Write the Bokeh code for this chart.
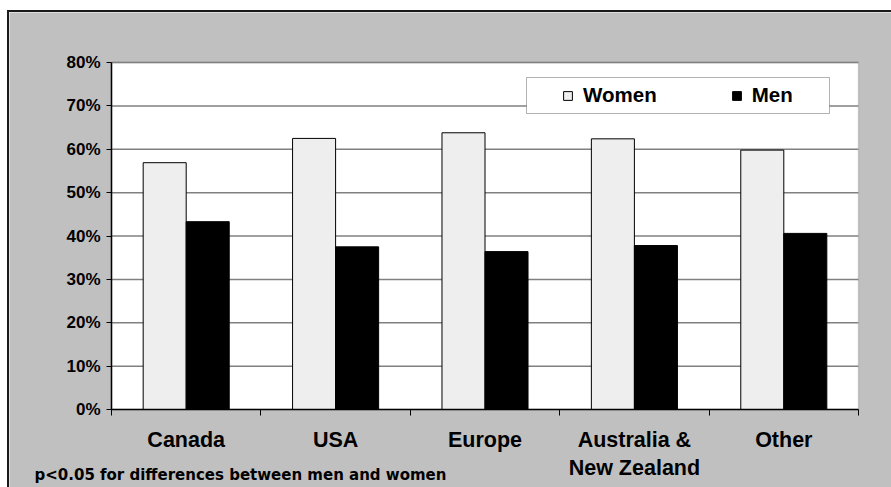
from bokeh.plotting import figure
from bokeh.models import (FixedTicker, Range1d, Legend, LegendItem, Label,
                          ColumnDataSource, BoxAnnotation)
from bokeh.transform import dodge
from bokeh.embed import file_html
from bokeh.resources import INLINE

# ---- data ----
categories = ["Canada", "USA", "Europe", "Australia &\nNew Zealand", "Other"]
women = [56.9, 62.5, 63.8, 62.4, 59.8]
men = [43.3, 37.5, 36.4, 37.8, 40.6]
y_ticks = [0, 10, 20, 30, 40, 50, 60, 70, 80]
y_tick_labels = ["0%", "10%", "20%", "30%", "40%", "50%", "60%", "70%", "80%"]
series_names = ["Women", "Men"]
note = "p<0.05 for differences between men and women"

centers = [i + 0.5 for i in range(len(categories))]
bounds = [i for i in range(len(categories) + 1)]
src = ColumnDataSource(dict(x=centers, women=women, men=men))
grid_src = ColumnDataSource(dict(y=y_ticks[1:]))

FONT = "Liberation Sans"
BAR_W = 0.288

# ---- layout (pixels) ----
CW, CH = 882, 475                       # canvas (whole chart area)
PL, PT, PW, PH = 102, 50, 747, 347      # plot area inside canvas
n = len(categories)
ymax = y_ticks[-1]
xs = n / PW
ys = ymax / PH
x_range = Range1d(-PL * xs, n + (CW - PL - PW) * xs)
y_range = Range1d(-(CH - PT - PH) * ys, ymax + PT * ys)

p = figure(frame_width=CW, frame_height=CH, min_border=0,
           x_range=x_range, y_range=y_range,
           output_backend="svg", toolbar_location=None)
p.styles = {"margin-left": "7px", "margin-top": "10px",
            "border-left": "2px solid #1a1a1a", "border-top": "2px solid #1a1a1a"}
p.border_fill_color = "#C0C0C0"
p.background_fill_color = "#C0C0C0"
p.outline_line_color = None

# white plot area with grey top/right edge
p.add_layout(BoxAnnotation(left=0, right=n, bottom=0, top=ymax,
                           fill_color="white", fill_alpha=1,
                           line_color="#808080", line_width=1.5, level="image"))

# horizontal grid lines
p.xgrid.visible = False
p.ygrid.visible = False
p.segment(x0=0, x1=n, y0="y", y1="y", source=grid_src,
          line_color="#808080", line_width=1.5)

rw = p.vbar(x=dodge("x", -BAR_W / 2, range=p.x_range), top="women", width=BAR_W,
            source=src, fill_color="#EEEEEE", line_color="black", line_width=1)
rm = p.vbar(x=dodge("x", BAR_W / 2, range=p.x_range), top="men", width=BAR_W,
            source=src, fill_color="black", line_color="black", line_width=1)

# y axis
ya = p.yaxis[0]
ya.fixed_location = 0
ya.bounds = (0, ymax)
ya.ticker = FixedTicker(ticks=y_ticks)
ya.major_label_overrides = dict(zip(y_ticks, y_tick_labels))
ya.axis_line_color = "black"
ya.axis_line_width = 1.5
ya.major_tick_in = 0
ya.major_tick_out = 5
ya.major_tick_line_color = "black"
ya.minor_tick_line_color = None
ya.major_label_text_font = FONT
ya.major_label_text_font_style = "bold"
ya.major_label_text_font_size = "17px"
ya.major_label_text_color = "black"
ya.major_label_standoff = 6

# x axis: labels at centers, tick marks at category boundaries
xa = p.xaxis[0]
xa.fixed_location = 0
xa.bounds = (0, n)
xa.ticker = FixedTicker(ticks=centers, minor_ticks=bounds)
xa.major_label_overrides = dict(zip(centers, categories))
xa.axis_line_color = "black"
xa.axis_line_width = 1.5
xa.major_tick_in = 0
xa.major_tick_out = 0
xa.minor_tick_in = 0
xa.minor_tick_out = 6
xa.minor_tick_line_color = "black"
xa.major_label_text_font = FONT
xa.major_label_text_font_style = "bold"
xa.major_label_text_font_size = "21.5px"
xa.major_label_text_color = "black"
xa.major_label_standoff = 12

# legend frame and legend
p.add_layout(BoxAnnotation(left=517, right=820, bottom=374, top=410,
                           left_units="screen", right_units="screen",
                           bottom_units="screen", top_units="screen",
                           fill_color="white", fill_alpha=1,
                           line_color="black", line_width=1, level="annotation"))
legend = Legend(items=[LegendItem(label=series_names[0], renderers=[rw]),
                       LegendItem(label=series_names[1], renderers=[rm])],
                orientation="horizontal", location=(553, 380),
                padding=0, margin=0, spacing=74,
                glyph_width=11, glyph_height=11, label_standoff=10,
                label_text_font=FONT, label_text_font_style="bold",
                label_text_font_size="20.5px", label_text_color="black",
                border_line_color=None, background_fill_alpha=0)
p.add_layout(legend)

# footnote
p.add_layout(Label(x=25, y=13, x_units="screen", y_units="screen", text=note,
                   text_font="DejaVu Sans", text_font_style="bold",
                   text_font_size="15px", text_color="black",
                   text_baseline="alphabetic"))

open("out.html", "w").write(file_html(p, INLINE))
